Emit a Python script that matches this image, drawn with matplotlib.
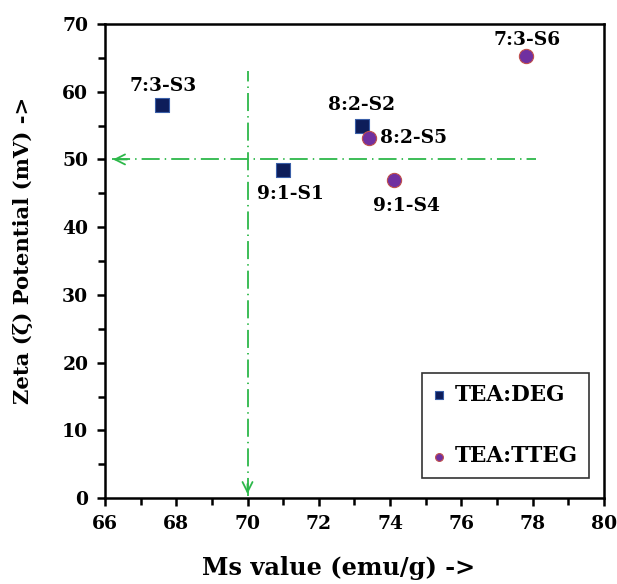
import matplotlib
matplotlib.use("Agg")
import matplotlib.pyplot as plt
from matplotlib.ticker import MultipleLocator

# data
deg_labels = ["9:1-S1", "8:2-S2", "7:3-S3"]
deg_ms = [71.0, 73.2, 67.6]
deg_zeta = [48.4, 55.0, 58.0]

tteg_labels = ["9:1-S4", "8:2-S5", "7:3-S6"]
tteg_ms = [74.1, 73.4, 77.8]
tteg_zeta = [47.0, 53.2, 65.2]

cut_ms = 70
cut_zeta = 50

plt.rcParams["font.family"] = ["DejaVu Serif"]
plt.rcParams["font.weight"] = "bold"

fig = plt.figure(figsize=(6.17, 5.84), dpi=100)
ax = fig.add_axes([0.170, 0.147, 0.809, 0.812])

ax.scatter(deg_ms, deg_zeta, marker="s", s=100, c="#0d1d5a",
           edgecolors="#3a5fa8", linewidths=0.8, zorder=3, label="TEA:DEG")
ax.scatter(tteg_ms, tteg_zeta, marker="o", s=105, c="#7030a0",
           edgecolors="#c0504d", linewidths=0.8, zorder=3, label="TEA:TTEG")

# guide lines with arrow heads
green = "#2db84a"
dash = (0, (10, 2.8, 0.8, 2.8))
ax.plot([cut_ms, cut_ms], [0.3, 63], color=green, lw=1.3, linestyle=dash, zorder=2)
ax.plot([66.2, 78.1], [cut_zeta, cut_zeta], color=green, lw=1.3, linestyle=dash, zorder=2)
ax.annotate("", xy=(cut_ms, 0.2), xytext=(cut_ms, 2.5),
            arrowprops=dict(arrowstyle="->", color=green, lw=1.3, mutation_scale=18))
ax.annotate("", xy=(66.15, cut_zeta), xytext=(66.7, cut_zeta),
            arrowprops=dict(arrowstyle="->", color=green, lw=1.3, mutation_scale=18))

# label offsets in points
offsets = {
    "9:1-S1": (5, -17), "8:2-S2": (0, 15), "7:3-S3": (1, 14),
    "9:1-S4": (9, -19), "8:2-S5": (32, 0), "7:3-S6": (1, 12),
}
for lab, x, y in zip(deg_labels + tteg_labels, deg_ms + tteg_ms, deg_zeta + tteg_zeta):
    dx, dy = offsets[lab]
    ax.annotate(lab, (x, y), xytext=(dx, dy), textcoords="offset points",
                ha="center", va="center", fontsize=13.4, fontweight="bold")

ax.set_xlim(66, 80)
ax.set_ylim(0, 70)
ax.xaxis.set_major_locator(MultipleLocator(2))
ax.xaxis.set_minor_locator(MultipleLocator(1))
ax.yaxis.set_major_locator(MultipleLocator(10))
ax.yaxis.set_minor_locator(MultipleLocator(5))
ax.tick_params(which="major", direction="out", length=6, width=1.8, labelsize=13.5, pad=6)
ax.tick_params(which="minor", direction="out", length=5, width=1.8)
for sp in ax.spines.values():
    sp.set_linewidth(1.8)

ax.set_xlabel("Ms value (emu/g) ->", fontsize=17.3, fontweight="bold", va="center")
ax.xaxis.set_label_coords(0.469, -0.148)
ax.set_ylabel("Zeta (ζ) Potential (mV) ->", fontsize=15.2, fontweight="bold", va="center")
ax.yaxis.set_label_coords(-0.164, 0.523)

leg = ax.legend(loc="lower right", bbox_to_anchor=(0.970, 0.042), borderaxespad=0,
                fontsize=15.5, frameon=True, fancybox=False, edgecolor="black",
                handletextpad=0.45, markerscale=0.55, labelspacing=1.85,
                borderpad=0.5, handlelength=0.6)
leg.get_frame().set_linewidth(1.2)

fig.savefig("out.png", dpi=100)
